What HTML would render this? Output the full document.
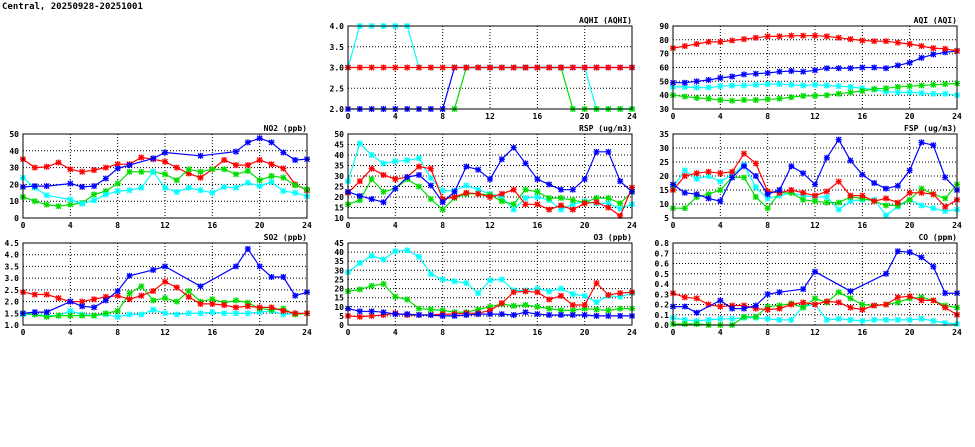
<!DOCTYPE html>
<html><head><meta charset="utf-8"><style>
html,body{margin:0;padding:0;background:#fff;width:975px;height:447px;overflow:hidden}
svg text{font-family:"DejaVu Sans Mono","Liberation Mono",monospace;font-weight:bold;font-size:8px;fill:#000}
</style></head><body>
<svg id="s" width="975" height="447" xmlns="http://www.w3.org/2000/svg">
<text x="2" y="9" style="font-size:9px">Central, 20250928-20251001</text>
</svg>
<script>
const N=null;
const P=[
{x0:23,x1:307,y0:134,y1:218,min:0,max:50,step:10,dec:0,t:"NO2 (ppb)",s:{
red:[35,30,30.5,33,29,27.5,28.5,30,32,32,36,35,33.5,30,26.5,24,29,34.5,31.5,31.5,34.5,32,29.5,20,16.5],
green:[12.5,10,8,7,8,9,14,16,20.5,27.5,27.5,27.5,26,22.5,29,27.5,29,29,26,28,22.5,25,24,19.5,17],
cyan:[24,18,13.5,N,11,8.5,10.5,14,16,16.5,18,27.5,18,15.5,18,16.5,15,18.5,18,21,19,21.5,16,15,13],
blue:[18.5,19,19,N,20.5,18.5,19,23.5,29.5,31.5,N,35.5,39,N,N,37,N,N,39.5,45,47.5,45,39,34.5,35]}},
{x0:23,x1:307,y0:243,y1:325,min:1,max:4.5,step:.5,dec:1,t:"SO2 (ppb)",s:{
cyan:[1.45,1.45,1.4,1.4,1.6,1.45,1.4,1.45,1.35,1.45,1.45,1.65,1.5,1.45,1.5,1.5,1.55,1.5,1.5,1.5,1.55,1.6,1.45,1.5,1.5],
green:[1.5,1.45,1.35,1.4,1.4,1.4,1.4,1.5,1.6,2.35,2.65,2.05,2.15,2.0,2.45,2.0,2.1,1.95,2.05,1.95,1.7,1.65,1.7,1.45,1.5],
red:[2.4,2.3,2.3,2.15,2.0,2.0,2.1,2.2,2.25,2.1,2.25,2.45,2.85,2.6,2.2,1.9,1.9,1.85,1.75,1.8,1.75,1.75,1.6,1.5,1.5],
blue:[1.5,1.55,1.55,N,2.0,1.8,1.75,2.05,2.45,3.1,N,3.35,3.5,N,N,2.65,N,N,3.5,4.25,3.5,3.05,3.05,2.25,2.4]}},
{x0:348,x1:632,y0:26,y1:109,min:2,max:4,step:.5,dec:1,t:"AQHI (AQHI)",s:{
cyan:[3,4,4,4,4,4,3,3,3,3,3,3,3,3,3,3,3,3,3,3,3,2,2,2,2],
green:[N,N,N,N,N,N,N,N,N,2,3,3,3,3,3,3,3,3,3,2,2,2,2,2,2],
blue:[2,2,2,2,2,2,2,2,2,3,3,3,3,3,3,3,3,3,3,3,3,3,3,3,3],
red:[3,3,3,3,3,3,3,3,3,3,3,3,3,3,3,3,3,3,3,3,3,3,3,3,3]}},
{x0:348,x1:632,y0:134,y1:218,min:10,max:50,step:5,dec:0,t:"RSP (ug/m3)",s:{
cyan:[27.5,45.5,40,36,37,37.5,38.5,29,23,23,25.5,23.5,21.5,20,14,19.5,20,18.5,14,16.5,18,17,17,14.5,16.5],
green:[16.5,18.5,28.5,22.5,24,28.5,25,19,14,19.5,21.5,21.5,21,18,16.5,23.5,22.5,19.5,19.5,18.5,17.5,19.5,19.5,17,22.5],
red:[22,27.5,33.5,30.5,28.5,29.5,34.5,33.5,19,20,22,21.5,20,21.5,23.5,16.5,16.5,14,16,14,17,17.5,15,11,24.5],
blue:[22.5,20.5,19,17.5,24,29.5,30.5,25.5,17.5,22.5,34.5,33,28.5,38,43.5,36,28.5,26,23.5,23.5,28.5,41.5,41.5,27.5,22.5]}},
{x0:348,x1:632,y0:243,y1:325,min:0,max:45,step:5,dec:0,t:"O3 (ppb)",s:{
cyan:[29,34,38,36,40.5,41,37.5,28,25,24,23,17.5,24.5,25,19,19,20,18.5,20,17,16,12.5,16,15.5,17.5],
green:[18.5,19.5,21.5,22.5,15.5,14,9,8.5,8,7,7,8.5,10,11.5,10.5,11,10,9,8,8,9,8.5,8,9,9],
red:[5,4.5,5,5.5,6.5,5.5,5.5,5.5,6,6,6.5,6.5,8,12,18,18.5,18,14,16,11,11,23,16.5,17.5,18],
blue:[9,7.5,7.5,7,6,6,5.5,5.5,5,5,5.5,6,6,6,5.5,7,6,5.5,5.5,5.5,5.5,5,5,5,5]}},
{x0:673,x1:957,y0:26,y1:109,min:30,max:90,step:10,dec:0,t:"AQI (AQI)",s:{
cyan:[46,46,45.5,45.5,46.5,47,47,47.5,48,48,47.5,47,47.5,47,46.5,46,45,44,42.5,42,42,41.5,41,41,40],
green:[40,39,38,37.5,36.5,36,36.5,36.5,37,37.5,38.5,39.5,39.5,40,41,42,43,44.5,45,46,46.5,47,47.5,48,48.5],
blue:[49,49,50,51,52.5,53.5,55,55.5,56,57,57.5,57,58,59.5,59.5,59.5,60,60,59.5,61.5,63.5,67,69.5,71,72],
red:[74,75.5,77,78.5,78.5,79.5,80.5,81.5,82.5,82.5,83,83,83,82.5,81.5,80.5,79.5,79,79,78,77,75.5,74,73.5,72]}},
{x0:673,x1:957,y0:134,y1:218,min:5,max:35,step:5,dec:0,t:"FSP (ug/m3)",s:{
cyan:[16,22,19,20,18,20.5,24,16,12,13,14,13,12.5,12.5,8,11,11.5,11.5,6,9,11.5,9.5,8.5,7.5,8],
green:[8.5,8.5,12.5,13.5,15,19.5,19.5,12.5,8.5,14,14,11.5,11,10.5,10.5,12.5,12,11,9.5,9.5,11.5,15.5,13.5,12,17],
red:[15,20,21,21.5,21,21.5,28,24.5,14.5,14,15,14,13,14.5,18,13,13,11,12,10.5,14,14,13.5,9,11.5],
blue:[17,14,13.5,12,11,19.5,23.5,20,13.5,15,23.5,21,17,26.5,33,25.5,20.5,17.5,15.5,16.5,22,32,31,19.5,15]}},
{x0:673,x1:957,y0:243,y1:325,min:0,max:.8,step:.1,dec:1,t:"CO (ppm)",s:{
cyan:[.07,.05,.04,.05,.06,.06,.07,.07,.06,.05,.05,.18,.2,.05,.06,.05,.04,.05,.05,.05,.05,.06,.04,.02,.01],
green:[.01,.01,.01,0,0,0,.08,.08,.18,.19,.21,.17,.26,.22,.32,.26,.2,.19,.2,.22,.26,.27,.24,.19,.17],
red:[.31,.27,.26,.2,.18,.19,.19,.16,.15,.16,.2,.22,.2,.23,.22,.17,.15,.19,.2,.27,.28,.24,.24,.17,.1],
blue:[.18,.18,.12,N,.24,.16,.16,.19,.3,.32,N,.35,.52,N,N,.33,N,N,.5,.72,.71,.66,.57,.31,.31]}}
];
const C={red:"#f00",green:"#0d0",cyan:"#0ff",blue:"#00f"};
let h="";
for(const p of P){
 const X=i=>p.x0+(p.x1-p.x0)*i/24, Y=v=>p.y1-(p.y1-p.y0)*(v-p.min)/(p.max-p.min);
 const nt=Math.round((p.max-p.min)/p.step);
 for(let k=0;k<=nt;k++){const v=p.min+k*p.step,y=Y(v).toFixed(1);
  if(k>0&&k<nt)h+=`<line x1="${p.x0}" x2="${p.x1}" y1="${y}" y2="${y}" stroke="#000" stroke-width="1" stroke-dasharray="1,2"/>`;
  h+=`<text x="${p.x0-4}" y="${+y+3}" text-anchor="end">${v.toFixed(p.dec)}</text>`;}
 for(let i=0;i<=24;i+=4){const x=X(i);
  if(i>0&&i<24)h+=`<line x1="${x}" x2="${x}" y1="${p.y0}" y2="${p.y1}" stroke="#000" stroke-dasharray="1,2"/>`;
  h+=`<text x="${x}" y="${p.y1+10}" text-anchor="middle">${i}</text>`;}
 h+=`<text x="${p.x1}" y="${p.y0-3}" text-anchor="end">${p.t}</text>`;
 for(const k in p.s){const d=p.s[k];let pts=[];
  d.forEach((v,i)=>{if(v!==null)pts.push([X(i),Y(v)])});
  h+=`<polyline fill="none" stroke="${C[k]}" stroke-width="1.2" points="${pts.map(q=>q[0].toFixed(1)+","+q[1].toFixed(1)).join(" ")}"/>`;
  for(const q of pts){const [x,y]=q;h+=`<path d="M${x-2.5},${y-2.5}L${x+2.5},${y+2.5}M${x-2.5},${y+2.5}L${x+2.5},${y-2.5}M${x},${y-3}L${x},${y+3}M${x-3},${y}L${x+3},${y}" stroke="${C[k]}" stroke-width="1.3"/>`;}
 }
 h+=`<rect x="${p.x0}" y="${p.y0}" width="${p.x1-p.x0}" height="${p.y1-p.y0}" fill="none" stroke="#000" stroke-width="1"/>`;
}
document.getElementById("s").insertAdjacentHTML("beforeend",h);
</script>
</body></html>
